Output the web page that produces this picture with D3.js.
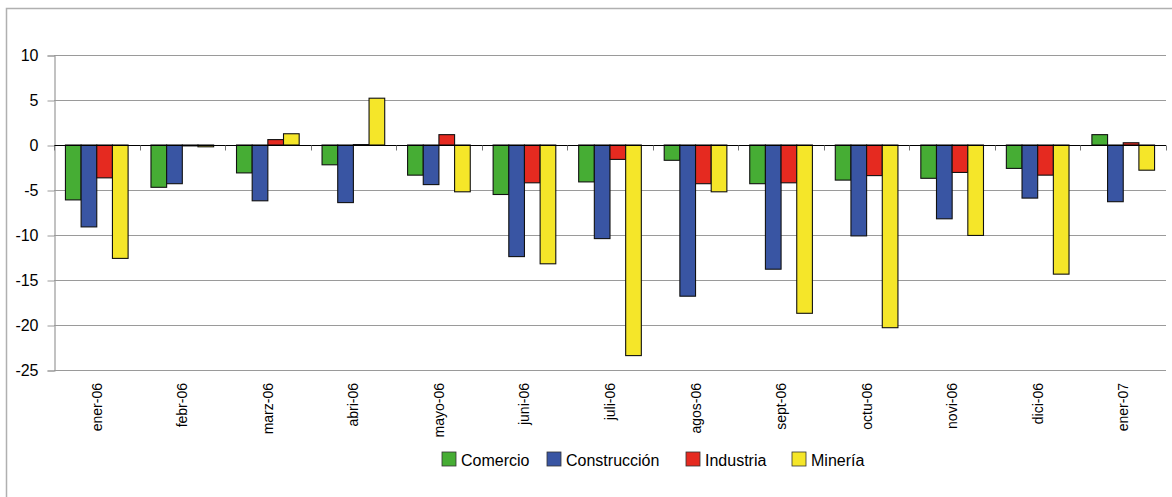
<!DOCTYPE html>
<html>
<head>
<meta charset="utf-8">
<script src="https://cdn.jsdelivr.net/npm/d3@7"></script>
<style>
  body { margin: 0; background: #fff; }
  svg { display: block; font-family: "Liberation Sans", Arial, sans-serif; }
</style>
</head>
<body>
<div id="board"></div>
<script>
var months = ['ener-06','febr-06','marz-06','abri-06','mayo-06','juni-06','juli-06','agos-06','sept-06','octu-06','novi-06','dici-06','ener-07'];
var series = ['Comercio','Construcción','Industria','Minería'];
var colors = ['#46ad34','#3955a3','#e52a20','#f5e629'];

var comercio     = [-6.1, -4.7, -3.1, -2.2, -3.35, -5.5, -4.1, -1.7, -4.3, -3.9, -3.7, -2.6, 1.15];
var construccion = [-9.1, -4.3, -6.2, -6.4, -4.4, -12.4, -10.4, -16.8, -13.8, -10.1, -8.2, -5.9, -6.3];
var industria    = [-3.65, -0.1, 0.6, 0.05, 1.15, -4.2, -1.6, -4.3, -4.2, -3.4, -3.05, -3.35, 0.25];
var mineria      = [-12.6, -0.2, 1.25, 5.2, -5.2, -13.2, -23.4, -5.2, -18.7, -20.3, -10.05, -14.35, -2.8];

var yTicks = [10, 5, 0, -5, -10, -15, -20, -25];

var W = 1172, H = 497;
var plotL = 54, plotR = 1166, plotT = 55, plotB = 370;

var svg = d3.select('#board').append('svg')
    .attr('width', W).attr('height', H);

// outer frame
svg.append('rect')
    .attr('x', 6.5).attr('y', 8.5)
    .attr('width', W + 10).attr('height', H + 10)
    .style('fill', 'none').style('stroke', '#b0b0b0').style('stroke-width', 1.5);

var y = d3.scaleLinear().domain([-25, 10]).range([plotB, plotT]);
var x0 = d3.scaleBand().domain(months).range([plotL, plotR]).padding(0);
var x1 = d3.scaleBand().domain(series).range([0, x0.bandwidth()])
    .paddingInner(0).paddingOuter(0.73);

// gridlines
svg.append('g').selectAll('line').data(yTicks).enter().append('line')
    .attr('x1', plotL).attr('x2', plotR)
    .attr('y1', function(d){ return Math.round(y(d)) + 0.5; })
    .attr('y2', function(d){ return Math.round(y(d)) + 0.5; })
    .style('stroke', '#9a9a9a').style('stroke-width', 1.2);

// y axis
var yAxis = svg.append('g')
    .attr('transform', 'translate(' + (plotL + 0.5) + ',0.5)')
    .call(d3.axisLeft(y).tickValues(yTicks).tickSize(7).tickPadding(9).tickFormat(d3.format('d')));
yAxis.select('.domain').style('stroke', '#9a9a9a').style('stroke-width', 1.2);
yAxis.selectAll('.tick line').style('stroke', '#9a9a9a');
yAxis.selectAll('.tick text')
    .style('font-size', '16px').style('fill', '#000').attr('font-family', null)
    .text(function(d){ return d < 0 ? '-' + Math.abs(d) : d; });

var data = [comercio, construccion, industria, mineria];

// bars
series.forEach(function(s, si){
    svg.append('g').selectAll('rect').data(data[si]).enter().append('rect')
        .attr('x', function(d, i){ return x0(months[i]) + x1(s); })
        .attr('width', x1.bandwidth())
        .attr('y', function(d){ return y(Math.max(0, d)); })
        .attr('height', function(d){ return Math.max(0.8, Math.abs(y(d) - y(0))); })
        .style('fill', colors[si])
        .style('stroke', '#111')
        .style('stroke-width', 1.1);
});

// category ticks on zero line
var y0 = Math.round(y(0)) + 0.5;
svg.append('line')
    .attr('x1', plotL).attr('x2', plotR).attr('y1', y0).attr('y2', y0)
    .style('stroke', '#000').style('stroke-width', 1);
svg.append('g').selectAll('line').data(months.concat(['end'])).enter().append('line')
    .attr('x1', function(d, i){ return Math.round(plotL + i * x0.step()) + 0.5; })
    .attr('x2', function(d, i){ return Math.round(plotL + i * x0.step()) + 0.5; })
    .attr('y1', y0).attr('y2', y0 + 5)
    .style('stroke', '#777');

// month labels
svg.append('g').selectAll('text').data(months).enter().append('text')
    .attr('transform', function(d){
        return 'translate(' + (x0(d) + x0.bandwidth() / 2 + 5) + ',383) rotate(-90)';
    })
    .attr('text-anchor', 'end')
    .style('font-size', '14px')
    .text(function(d){ return d; });

// legend
var legendX = [442, 547, 686, 792];
var legend = svg.append('g').selectAll('g').data(series).enter().append('g')
    .attr('transform', function(d, i){ return 'translate(' + legendX[i] + ',452)'; });
legend.append('rect')
    .attr('width', 14).attr('height', 14)
    .style('fill', function(d, i){ return colors[i]; })
    .style('stroke', '#333').style('stroke-width', 0.8);
legend.append('text')
    .attr('x', 19).attr('y', 14)
    .style('font-size', '16px')
    .text(function(d){ return d; });
</script>
</body>
</html>
